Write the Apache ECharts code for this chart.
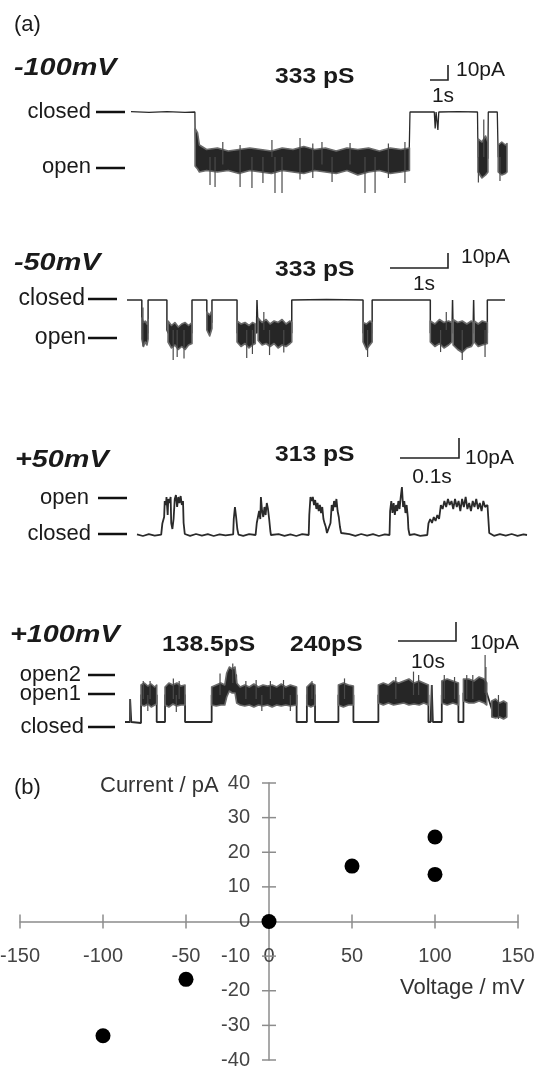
<!DOCTYPE html>
<html>
<head>
<meta charset="utf-8">
<script src="https://cdn.jsdelivr.net/npm/echarts@6/dist/echarts.min.js"></script>
<style>
html,body{margin:0;padding:0;background:#fff;}
#c{width:536px;height:1066px;}
</style>
</head>
<body>
<div id="c"></div>
<script>
// ---------------- DATA ----------------
// Trace 1: -100 mV (time s, current pA)
const t1Path = [[0,0.3],[1,-0.3],[2,0.3],[3,-0.3],[3.55,0],[3.56,-12],[3.62,-30],[15.45,-31],[15.5,0],[16.85,0],[16.9,-11],[16.95,0],[17.0,0],[17.05,-12],[17.1,0],[18.2,0.3],[19.25,0],[19.28,-30],[19.83,-31],[19.85,0],[20.35,0],[20.4,-30],[20.89,-31]];
const t1Bands = [
  [[3.56,-11,-36],[3.7,-14,-38],[3.8,-22,-40],[4.2,-25,-39],[4.8,-24,-40],[5.4,-26,-39],[6.0,-25,-41],[6.6,-24,-39],[7.2,-25,-40],[7.8,-26,-41],[8.4,-24,-39],[9.0,-25,-40],[9.6,-23,-41],[10.2,-25,-39],[10.8,-24,-40],[11.4,-26,-41],[12.0,-24,-39],[12.6,-25,-42],[13.2,-24,-40],[13.8,-26,-39],[14.4,-24,-41],[15.0,-25,-40],[15.47,-24,-39]],
  [[19.28,-18,-40],[19.5,-20,-44],[19.7,-16,-42],[19.83,-20,-40]],
  [[20.4,-22,-40],[20.6,-20,-42],[20.8,-22,-41],[20.89,-21,-40]]
];
const t1Spikes = [[4.39,-30,-48.7],[4.67,-30,-50],[5.1,-20,-35],[6.06,-22,-50],[6.72,-30,-50.7],[7.33,-30,-47.3],[7.83,-18.7,-30],[8.0,-30,-54],[8.39,-30,-54],[9.39,-17.3,-45],[10.1,-21,-44],[10.61,-20,-35],[11.17,-30,-46.7],[12.17,-20.7,-35],[13.0,-30,-54],[13.56,-30,-54],[14.3,-21,-44],[15.22,-20,-47.3],[19.3,-30,-47],[19.6,-5,-30],[20.5,-30,-46]];

// Trace 2: -50 mV
const t2Path = [[0,0],[0.26,0],[0.26,-22],[0.37,-22],[0.37,0],[0.70,0],[0.70,-20],[0.72,-22],[1.14,-22],[1.14,0],[1.40,0],[1.40,-15],[1.49,-15],[1.49,0],[1.93,0],[1.93,-22],[2.27,-22],[2.28,0],[2.30,-22],[2.89,-22],[2.89,0],[3.5,0.3],[4.14,0],[4.14,-22],[4.30,-22],[4.30,0],[5.32,0],[5.32,-22],[5.70,-22],[5.71,0],[5.72,-22],[6.07,-22],[6.08,0],[6.09,-22],[6.32,-22],[6.32,0],[6.63,0]];
const t2Bands = [
  [[0.26,-12,-26],[0.29,-15,-31],[0.32,-14,-28],[0.35,-16,-30],[0.37,-13,-26]],
  [[0.72,-14,-28],[0.78,-17,-32],[0.84,-15,-30],[0.90,-18,-33],[0.96,-16,-31],[1.02,-15,-33],[1.08,-17,-30],[1.14,-15,-29]],
  [[1.40,-8,-20],[1.45,-10,-24],[1.49,-7,-19]],
  [[1.93,-14,-28],[2.0,-16,-31],[2.07,-15,-29],[2.14,-17,-32],[2.2,-15,-30],[2.25,-16,-29]],
  [[2.30,-12,-27],[2.37,-15,-30],[2.44,-13,-29],[2.51,-16,-31],[2.58,-14,-29],[2.65,-15,-32],[2.72,-13,-30],[2.79,-16,-31],[2.86,-14,-29],[2.89,-15,-28]],
  [[4.14,-15,-28],[4.2,-16,-33],[4.26,-14,-30],[4.30,-15,-28]],
  [[5.32,-14,-28],[5.4,-16,-31],[5.48,-13,-29],[5.56,-15,-32],[5.64,-14,-30],[5.70,-15,-28]],
  [[5.72,-13,-30],[5.8,-15,-33],[5.88,-14,-35],[5.96,-16,-32],[6.04,-14,-31],[6.07,-15,-29]],
  [[6.09,-14,-28],[6.16,-16,-31],[6.23,-14,-30],[6.32,-15,-29]]
];
const t2Spikes = [[0.28,-5,-31],[0.81,-20,-40],[0.88,-20,-38],[1.0,-20,-39],[2.1,-20,-38.7],[2.2,-20,-36],[2.5,-20,-36.7],[2.75,-20,-35],[4.22,-20,-38],[5.5,-20,-34.7],[5.88,-20,-40],[6.28,-20,-38],[5.6,-8,-20],[2.4,-8,-20]];

// Trace 3: +50 mV
const t3Path = [[0,0.3],[0.01,-0.5],[0.02,0.4],[0.03,-0.3],[0.041,0.2],
  [0.043,5.8],[0.046,9],[0.047,17],[0.049,15],[0.050,19],[0.052,10],[0.053,18],[0.055,16],[0.057,19],[0.058,6],[0.060,3],[0.062,8],[0.064,18],[0.066,20],[0.068,14],[0.070,19],[0.072,16],[0.074,19.5],[0.076,15],[0.078,17],[0.079,6],[0.081,0.5],
  [0.09,-0.4],[0.10,0.5],[0.11,-0.3],[0.12,0.4],[0.13,-0.5],[0.14,0.3],[0.15,-0.2],[0.163,0.3],
  [0.164,8],[0.166,14],[0.168,9],[0.170,3],[0.172,0.2],
  [0.18,-0.4],[0.19,0.4],[0.201,0],
  [0.203,6],[0.205,9],[0.207,12],[0.209,8],[0.210,19],[0.212,12],[0.214,9],[0.216,14],[0.218,10],[0.220,16],[0.222,13],[0.224,8],[0.226,2],[0.227,0],
  [0.24,0.4],[0.25,-0.4],[0.26,0.3],[0.27,-0.5],[0.28,0.4],[0.291,0],
  [0.292,10],[0.294,19],[0.296,17],[0.298,19],[0.300,15],[0.302,17.5],[0.304,13],[0.306,16],[0.308,12],[0.310,15],[0.312,11],[0.314,14],[0.316,8],[0.318,5.8],[0.320,4],[0.322,1],[0.325,2],[0.328,6],[0.330,15],[0.332,12],[0.334,17],[0.336,14],[0.338,18],[0.340,12],[0.342,9],[0.344,4],[0.346,1],[0.349,0],
  [0.36,0.4],[0.37,-0.4],[0.38,0.5],[0.39,-0.3],[0.40,0.4],[0.41,-0.5],[0.42,0.3],[0.428,0],
  [0.429,12],[0.431,17],[0.433,11],[0.435,16],[0.437,10],[0.439,15],[0.441,12],[0.443,17],[0.445,13],[0.447,19],[0.449,24],[0.451,14],[0.453,17],[0.455,11],[0.457,15],[0.459,9],[0.460,3],[0.462,0],
  [0.47,0.4],[0.48,-0.4],[0.492,0],
  [0.494,5.8],[0.497,8],[0.500,6],[0.503,9],[0.506,7],[0.509,10],[0.512,8],[0.515,15],[0.518,13],[0.521,17],[0.524,14],[0.527,18],[0.530,15],[0.533,17],[0.536,13],[0.539,18],[0.542,14],[0.545,17],[0.548,12],[0.551,18],[0.554,14],[0.557,19],[0.560,13],[0.563,16],[0.566,12],[0.569,17],[0.572,14],[0.575,18],[0.578,13],[0.581,16],[0.584,12],[0.587,17],[0.590,14],[0.594,15],[0.597,1],
  [0.605,-0.4],[0.615,0.4],[0.625,-0.3],[0.635,0.5],[0.645,-0.4],[0.655,0.3],[0.661,0]];

// Trace 4: +100 mV
const t4Path = [[0,0.5],[0.88,0.5],[0.9,12],[1.1,0.5],[2.81,0],[2.81,14],[5.56,14],[5.56,0.5],[7.02,0.5],[7.02,14],[10.53,14],[10.53,0.5],[15.2,0.5],[15.2,14],[17.84,14],[17.9,24],[19.5,24],[19.59,14],[30.1,14],[30.1,0.5],[31.9,0.5],[31.9,14],[33.33,14],[33.33,0.5],[37.43,0.5],[37.43,14],[40.06,14],[40.06,0.5],[44.44,0.5],[44.44,14],[53.22,14],[53.22,0.5],[53.6,0.5],[53.8,19],[54.0,0.5],[55.56,0.5],[55.56,14],[58.48,14],[58.48,0.5],[59.36,0.5],[59.36,15],[63.45,15],[64.33,7],[66.96,6]];
const t4Bands = [
  [[2.81,19,9],[3.4,20,8.5],[4.0,18.5,9.5],[4.6,19.5,8],[5.2,18,9],[5.56,19,9.5]],
  [[7.02,18,9],[7.7,20,8],[8.4,19,9.5],[9.1,20,8.5],[9.8,18.5,9],[10.53,19,9]],
  [[15.2,18,9],[16.0,19,8.5],[16.8,20,9],[17.5,19,9],[17.84,25,13],[18.3,28,16],[18.8,27,15],[19.3,28,15],[19.59,20,10],[20.2,18,9],[21.0,19,8.5],[21.8,18,9],[22.6,19.5,8],[23.4,18,9],[24.2,19,8.5],[25.0,18.5,9],[25.8,19,8],[26.6,18,9],[27.4,19.5,8.5],[28.2,18,9],[29.0,19,8.5],[30.1,18,9]],
  [[31.9,18,9],[32.6,20,8],[33.33,19,9]],
  [[37.43,19,9],[38.3,20,8],[39.2,19,9],[40.06,18.5,9]],
  [[44.44,19,10],[45.3,20,9],[46.2,19,10],[47.1,21,9],[48.0,20,9.5],[48.9,21,10],[49.8,22,9],[50.7,20,9.5],[51.6,21,9],[52.4,20,10],[53.22,19,9]],
  [[55.56,21,10],[56.5,22,9],[57.5,21,10],[58.48,20,9]],
  [[59.36,22,11],[60.3,22,10],[61.2,21,10],[62.1,23,11],[63.0,22,10],[63.45,20,9]],
  [[64.33,11,3],[65.0,12,2.5],[65.7,10,3],[66.4,11,2],[66.96,10,3]]
];
const t4Spikes = [[0.95,12,0.5],[3.2,21,12],[4.4,21,12],[8.48,22.3,12],[9.5,21,12],[16.67,24.8,14],[18.9,29.8,20],[21.2,21,12],[23.0,21.5,12],[25.5,21,12],[27.8,21.5,12],[32.8,21,12],[38.5,22.3,12],[47.5,23,12],[50.6,25.7,14],[51.5,24,14],[53.8,19,0.5],[56.0,24,12],[57.8,23,12],[59.94,24,12],[61.0,24,12],[63.16,34,15],[63.3,28,14],[65.5,14,2],[4.0,14,6],[9.0,14,5.5],[24,14,6],[29,14,6]];

// Panel (b): I-V relation
const voltages = [-100, -50, 0, 50, 100, 100];
const currents = [-33, -16.7, 0, 16, 24.4, 13.6];
const xTicks = [-150, -100, -50, 0, 50, 100, 150];
const yTicks = [-40, -30, -20, -10, 0, 10, 20, 30, 40];

// ---------------- CHART ----------------
const FF = '"Liberation Sans", Arial, Helvetica, sans-serif';
const chart = echarts.init(document.getElementById('c'), null, {renderer: 'canvas'});

const G5 = {left: 20, top: 783, width: 498, height: 277};
const grids = [
  {left: 131, top: 94, width: 376, height: 108},
  {left: 127, top: 282, width: 378, height: 90},
  {left: 137, top: 475, width: 390, height: 70},
  {left: 125, top: 653, width: 382, height: 80},
  G5
].map(g => Object.assign({outerBoundsMode: 'none', containLabel: false}, g));
const xr = [[0, 20.89], [0, 6.63], [0, 0.661], [0, 67.0]];
const yr = [[-60, 12], [-48, 12], [-5, 30], [-5, 35]];

const xAxes = xr.map((r, i) => ({gridIndex: i, type: 'value', min: r[0], max: r[1], show: false}));
const yAxes = yr.map((r, i) => ({gridIndex: i, type: 'value', min: r[0], max: r[1], show: false}));
xAxes.push({
  gridIndex: 4, type: 'value', min: -150, max: 150, interval: 50, position: 'bottom', offset: -G5.height / 2,
  axisLine: {onZero: false, lineStyle: {color: '#8c8c8c', width: 1.5}},
  axisTick: {show: false}, splitLine: {show: false},
  axisLabel: {margin: 25, fontSize: 20, color: '#444', fontFamily: FF, showMinLabel: true, showMaxLabel: true, hideOverlap: false}
});
yAxes.push({
  gridIndex: 4, type: 'value', min: -40, max: 40, interval: 10, position: 'left', offset: -G5.width / 2,
  axisLine: {onZero: false, lineStyle: {color: '#8c8c8c', width: 1.5}},
  axisTick: {show: false}, splitLine: {show: false},
  axisLabel: {margin: 19, fontSize: 20, color: '#444', fontFamily: FF, showMinLabel: true, showMaxLabel: true, hideOverlap: false}
});

function pathSeries(i, data, w) {
  return {type: 'line', xAxisIndex: i, yAxisIndex: i, data: data, showSymbol: false, symbol: 'none',
    lineStyle: {color: '#2a2a2a', width: w}, animation: false, silent: true, z: 3};
}
function bandSeries(i, bands) {
  return {type: 'custom', xAxisIndex: i, yAxisIndex: i, silent: true, animation: false, z: 4,
    data: bands.map(b => [b[0][0], b[0][1]]),
    renderItem: function (params, api) {
      const b = bands[params.dataIndex];
      const top = b.map(p => api.coord([p[0], p[1]]));
      const bot = b.slice().reverse().map(p => api.coord([p[0], p[2]]));
      return {type: 'polygon', shape: {points: top.concat(bot)},
        style: {fill: '#262626', stroke: '#6a6a6a', lineWidth: 1.6, lineJoin: 'round'}};
    }};
}
function spikeSeries(i, spikes) {
  return {type: 'custom', xAxisIndex: i, yAxisIndex: i, silent: true, animation: false, z: 5,
    data: spikes,
    renderItem: function (params, api) {
      const a = api.coord([api.value(0), api.value(1)]);
      const b = api.coord([api.value(0), api.value(2)]);
      return {type: 'line', shape: {x1: a[0], y1: a[1], x2: b[0], y2: b[1]}, style: {stroke: '#4a4a4a', lineWidth: 1.2}};
    }};
}

const series = [
  pathSeries(0, t1Path, 1.3), bandSeries(0, t1Bands), spikeSeries(0, t1Spikes),
  pathSeries(1, t2Path, 1.5), bandSeries(1, t2Bands), spikeSeries(1, t2Spikes),
  pathSeries(2, t3Path, 1.8),
  pathSeries(3, t4Path, 1.8), bandSeries(3, t4Bands), spikeSeries(3, t4Spikes),
  {type: 'custom', xAxisIndex: 4, yAxisIndex: 4, silent: true, animation: false, z: 2,
    data: xTicks.map(v => [v, 0]),
    renderItem: function (params, api) {
      const p = api.coord([api.value(0), 0]);
      return {type: 'line', shape: {x1: p[0], y1: p[1] - 7, x2: p[0], y2: p[1] + 7}, style: {stroke: '#8c8c8c', lineWidth: 1.5}};
    }},
  {type: 'custom', xAxisIndex: 4, yAxisIndex: 4, silent: true, animation: false, z: 2,
    data: yTicks.map(v => [0, v]),
    renderItem: function (params, api) {
      const p = api.coord([0, api.value(1)]);
      return {type: 'line', shape: {x1: p[0] - 7, y1: p[1], x2: p[0] + 7, y2: p[1]}, style: {stroke: '#8c8c8c', lineWidth: 1.5}};
    }},
  {type: 'scatter', xAxisIndex: 4, yAxisIndex: 4, data: voltages.map((v, k) => [v, currents[k]]),
    symbol: 'circle', symbolSize: 15, itemStyle: {color: '#000', opacity: 1}, animation: false, z: 6}
];

// annotations
function txt(x, y, s, size, opt) {
  opt = opt || {};
  return {type: 'text', x: x, y: y, scaleX: opt.sx || 1, silent: true, z: 10,
    style: {text: s, fontSize: size, fontFamily: FF, fontWeight: opt.w || 'normal', fontStyle: opt.it ? 'italic' : 'normal',
      fill: opt.c || '#1a1a1a', align: opt.a || 'left', textAlign: opt.a || 'left', verticalAlign: 'middle', textVerticalAlign: 'middle'}};
}
function dash(x1, x2, y) {
  return {type: 'line', silent: true, z: 10, shape: {x1: x1, y1: y, x2: x2, y2: y}, style: {stroke: '#111', lineWidth: 2.5}};
}
function bar(pts) {
  return {type: 'polyline', silent: true, z: 10, shape: {points: pts}, style: {stroke: '#222', lineWidth: 1.6, fill: null}};
}
const graphic = [
  txt(14, 25, '(a)', 22),
  // trace 1
  txt(14, 68, '-100mV', 24, {w: 'bold', it: true, sx: 1.2}),
  txt(275, 77, '333 pS', 22, {w: 'bold', sx: 1.12}),
  bar([[430, 80], [448, 80], [448, 65]]),
  txt(456, 70, '10pA', 21), txt(443, 96, '1s', 21, {a: 'center'}),
  txt(91, 112, 'closed', 22, {a: 'right'}), dash(96, 125, 112),
  txt(91, 167, 'open', 22, {a: 'right'}), dash(96, 125, 168),
  // trace 2
  txt(14, 263, '-50mV', 24, {w: 'bold', it: true, sx: 1.2}),
  txt(275, 270, '333 pS', 22, {w: 'bold', sx: 1.12}),
  bar([[390, 268], [448, 268], [448, 253]]),
  txt(461, 257, '10pA', 21), txt(424, 284, '1s', 21, {a: 'center'}),
  txt(85, 299, 'closed', 23, {a: 'right'}), dash(88, 117, 299),
  txt(86, 338, 'open', 23, {a: 'right'}), dash(88, 117, 338),
  // trace 3
  txt(15, 460, '+50mV', 24, {w: 'bold', it: true, sx: 1.2}),
  txt(275, 455, '313 pS', 22, {w: 'bold', sx: 1.12}),
  bar([[400, 458], [459, 458], [459, 438]]),
  txt(465, 458, '10pA', 21), txt(432, 477, '0.1s', 21, {a: 'center'}),
  txt(89, 498, 'open', 22, {a: 'right'}), dash(98, 127, 498),
  txt(91, 534, 'closed', 22, {a: 'right'}), dash(98, 127, 534),
  // trace 4
  txt(10, 635, '+100mV', 24, {w: 'bold', it: true, sx: 1.2}),
  txt(162, 645, '138.5pS', 22, {w: 'bold', sx: 1.12}),
  txt(290, 645, '240pS', 22, {w: 'bold', sx: 1.12}),
  bar([[398, 641], [456, 641], [456, 622]]),
  txt(470, 643, '10pA', 21), txt(428, 662, '10s', 21, {a: 'center'}),
  txt(81, 675, 'open2', 22, {a: 'right'}), dash(88, 115, 675),
  txt(81, 694, 'open1', 22, {a: 'right'}), dash(88, 115, 694),
  txt(84, 727, 'closed', 22, {a: 'right'}), dash(88, 115, 727),
  // panel b
  txt(14, 788, '(b)', 22),
  txt(100, 786, 'Current / pA', 22, {c: '#333'}),
  txt(400, 988, 'Voltage / mV', 22, {c: '#333'})
];

chart.setOption({
  animation: false,
  backgroundColor: '#fff',
  grid: grids,
  xAxis: xAxes,
  yAxis: yAxes,
  series: series,
  graphic: {elements: graphic}
});
</script>
</body>
</html>
